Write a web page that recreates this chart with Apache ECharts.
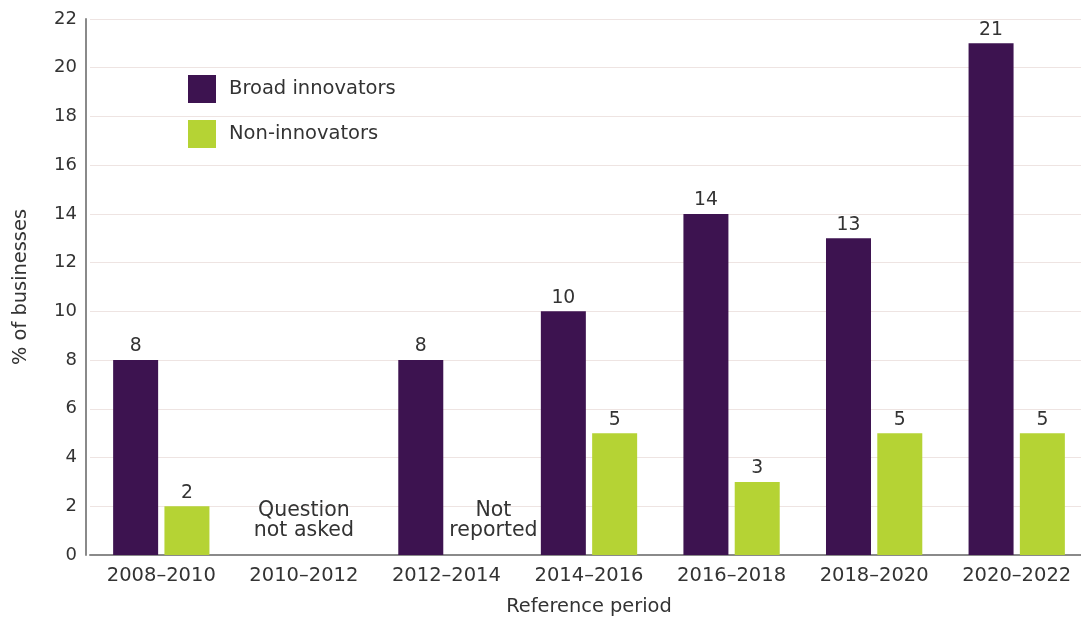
<!DOCTYPE html>
<html>
<head>
<meta charset="utf-8">
<style>
  html, body { margin: 0; padding: 0; background: #ffffff; overflow: hidden; }
  #chart { width: 1088px; height: 621px; }
</style>
<script src="https://cdn.jsdelivr.net/npm/echarts@6/dist/echarts.min.js"></script>
</head>
<body>
<div id="chart"></div>
<script>
// Reference periods on the x axis
const periods = ['2008–2010', '2010–2012', '2012–2014', '2014–2016', '2016–2018', '2018–2020', '2020–2022'];
// Share of businesses (%) per group; null where no figure exists
const broadInnovators = [8, null, 8, 10, 14, 13, 21];
const nonInnovators = [2, null, null, 5, 3, 5, 5];
// Notes shown where a figure is missing
const gapNotes = [
  { period: '2010–2012', text: 'Question\nnot asked', group: 'centre' },
  { period: '2012–2014', text: 'Not\nreported', group: 'non' }
];
const yTicks = { min: 0, max: 22, interval: 2 };

const FONT = '"DejaVu Sans", Verdana, sans-serif';
const TEXT = '#333333';
const chart = echarts.init(document.getElementById('chart'));

const noteData = gapNotes.map(n => ({
  value: [n.period, 1.4],
  label: { formatter: n.text, offset: [n.group === 'non' ? 47 : 0, 0] }
}));

chart.setOption({
  animation: false,
  textStyle: { fontFamily: FONT },
  grid: { left: 90, right: 0, top: 19, bottom: 65, containLabel: false },
  legend: {
    orient: 'vertical',
    left: 183, top: 70,
    itemWidth: 28, itemHeight: 28, itemGap: 17,
    icon: 'rect',
    textStyle: { fontSize: 19.5, color: TEXT, fontFamily: FONT, padding: [0, 0, 0, 8] },
    data: ['Broad innovators', 'Non-innovators']
  },
  xAxis: {
    type: 'category',
    data: periods,
    name: 'Reference period',
    nameLocation: 'middle',
    nameGap: 42,
    nameTextStyle: { fontSize: 19.4, color: TEXT },
    axisLine: { lineStyle: { color: '#8a8a8a', width: 2 } },
    axisTick: { show: false },
    axisLabel: { fontSize: 19.5, color: TEXT, margin: 11 }
  },
  yAxis: {
    type: 'value',
    min: yTicks.min, max: yTicks.max, interval: yTicks.interval,
    offset: 4,
    name: '% of businesses',
    nameLocation: 'middle',
    nameGap: 56,
    nameTextStyle: { fontSize: 19.4, color: TEXT },
    axisLine: { show: true, lineStyle: { color: '#8a8a8a', width: 2 } },
    axisTick: { show: false },
    axisLabel: { fontSize: 18, color: TEXT, margin: 9 },
    splitLine: { lineStyle: { color: '#eee4e2', width: 1 } }
  },
  series: [
    {
      name: 'Broad innovators',
      type: 'bar',
      data: broadInnovators,
      barWidth: 45,
      barGap: '14%',
      itemStyle: { color: '#3d1350' },
      label: { show: true, position: 'top', distance: 4, fontSize: 18.8, color: TEXT }
    },
    {
      name: 'Non-innovators',
      type: 'bar',
      data: nonInnovators,
      barWidth: 45,
      itemStyle: { color: '#b5d334' },
      label: { show: true, position: 'top', distance: 4, fontSize: 18.8, color: TEXT }
    },
    {
      name: 'notes',
      type: 'scatter',
      data: noteData,
      symbolSize: 0,
      silent: true,
      z: 5,
      itemStyle: { opacity: 1 },
      label: {
        show: true, position: 'inside',
        fontSize: 20.5, lineHeight: 20, color: TEXT, opacity: 1, align: 'center'
      }
    }
  ]
});
</script>
</body>
</html>
